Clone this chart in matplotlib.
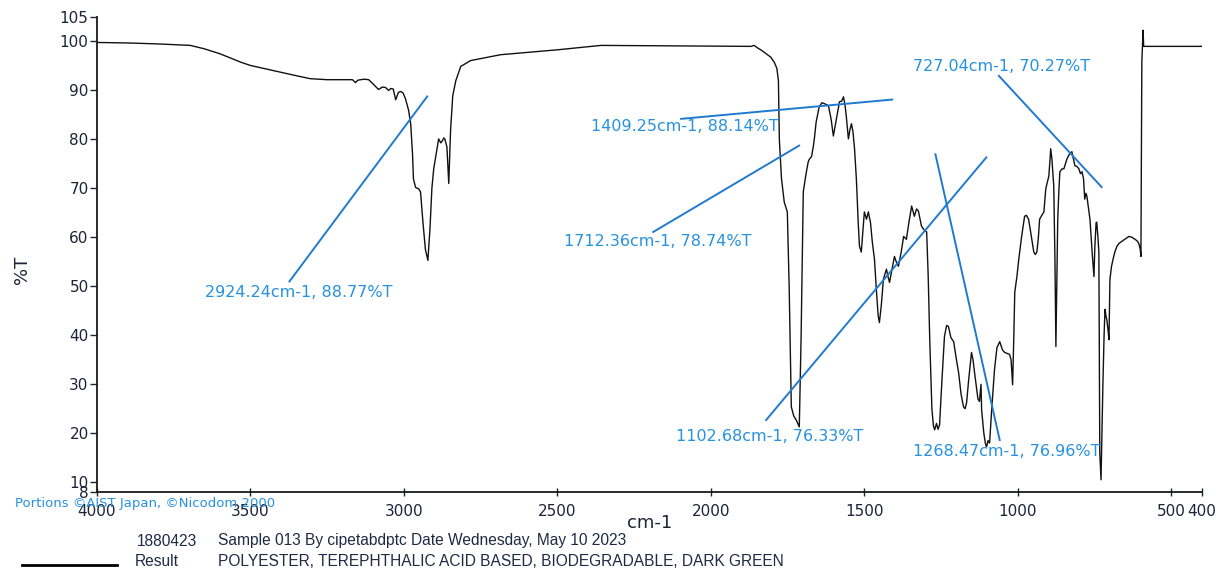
import matplotlib
matplotlib.use('Agg')
import matplotlib.pyplot as plt

# FTIR spectrum, wavenumber (cm-1) vs transmittance (%T)
wavenumber = [
    4000, 3900, 3800, 3696, 3650, 3600, 3560, 3533, 3500, 3450, 3400, 3350,
    3305, 3250,
    3168, 3158, 3150, 3130, 3115, 3100, 3083, 3070, 3060, 3050, 3043, 3035,
    3027, 3018, 3011, 3003, 2995, 2985, 2978, 2972, 2969, 2962, 2952, 2946,
    2938, 2930, 2922, 2915, 2909, 2903, 2895, 2887, 2880, 2877, 2870, 2867,
    2860, 2854, 2848, 2841, 2831, 2815, 2783, 2750, 2685, 2500, 2358, 2100,
    1869, 1859, 1846, 1835, 1820, 1805, 1793, 1785, 1780, 1777, 1770, 1761,
    1751, 1745, 1738, 1730, 1722, 1712, 1706, 1699, 1690, 1683, 1679, 1672,
    1666, 1663, 1657, 1647, 1638, 1630, 1617, 1608, 1601, 1591, 1581, 1574,
    1568, 1563, 1559, 1552, 1547, 1542, 1537, 1532, 1526, 1520, 1516, 1510,
    1505, 1500, 1493, 1487, 1480, 1474, 1467, 1461, 1455, 1451, 1445, 1438,
    1433, 1428, 1423, 1418, 1410, 1402, 1396, 1389, 1380, 1372, 1363, 1355,
    1346, 1340, 1337, 1330, 1324, 1318, 1314, 1305, 1297, 1292, 1287, 1280,
    1275, 1271, 1265, 1260, 1255, 1248, 1239, 1232, 1226, 1218, 1209, 1200,
    1193, 1185, 1177, 1172, 1167, 1160, 1151, 1146, 1141, 1130, 1125, 1120,
    1118, 1111, 1106, 1102, 1097, 1092, 1085, 1076, 1068, 1059, 1050, 1043,
    1035, 1027, 1022, 1017, 1013, 1010, 1003, 997, 988, 978, 972, 965,
    958, 948, 943, 938, 933, 929, 922, 915, 909, 905, 899, 895,
    893, 889, 883, 879, 876, 873, 870, 866, 863, 856, 850, 845,
    840, 832, 824, 819, 814, 808, 801, 796, 791, 786, 782, 778,
    775, 770, 765, 758, 752, 749, 745, 743, 739, 736, 733, 729,
    726, 723, 719, 716, 713, 710, 706, 703, 700, 695, 690, 684,
    677, 670, 661, 650, 638, 628, 618, 610, 605, 601, 599, 597,
    596, 592, 590, 500, 400,
]
transmittance = [
    99.8, 99.7, 99.5, 99.2, 98.5, 97.5, 96.5, 95.8, 95.1, 94.4, 93.7, 93.0,
    92.4, 92.2,
    92.2, 91.6, 92.1, 92.3, 92.2, 91.3, 90.2, 90.7, 90.6, 90.0, 90.4, 90.3,
    88.1, 89.6, 89.8, 89.5, 88.3, 86.0, 83.2, 77.0, 71.9, 70.2, 69.9, 69.3,
    63.0, 57.5, 55.3, 62.0, 70.0, 74.0, 77.0, 80.1, 79.3, 79.5, 80.3, 80.1,
    78.5, 71.0, 82.0, 88.9, 92.0, 94.9, 96.1, 96.5, 97.3, 98.3, 99.2, 99.1,
    99.0, 99.2, 98.6, 98.2, 97.5, 96.8, 95.7, 94.5, 92.0, 80.0, 72.0, 67.2,
    65.2, 50.0, 25.4, 23.5, 22.7, 21.3, 40.0, 69.3, 73.0, 75.4, 76.0, 76.5,
    78.7, 80.1, 83.6, 86.7, 87.5, 87.3, 86.9, 84.0, 80.7, 84.2, 87.7, 87.8,
    88.7, 87.0, 84.8, 80.1, 82.0, 83.2, 81.5, 78.1, 71.9, 63.0, 58.2, 57.0,
    61.0, 65.2, 63.7, 65.2, 63.0, 59.0, 55.5, 49.4, 44.0, 42.6, 46.0, 51.4,
    52.5, 53.5, 52.0, 50.8, 53.5, 56.1, 55.0, 54.1, 57.0, 60.2, 59.6, 63.0,
    66.4, 65.0, 64.3, 65.8, 65.4, 63.5, 62.3, 61.5, 61.1, 52.0, 39.1, 25.0,
    21.5, 20.7, 22.0, 20.8, 21.7, 30.0, 39.8, 42.0, 41.8, 39.5, 38.7, 35.0,
    32.4, 28.0, 25.4, 25.0, 26.2, 31.0, 36.5, 35.0, 32.4, 27.0, 26.5, 30.0,
    24.8, 20.1, 18.0, 17.2, 18.5, 18.0, 25.0, 33.0, 37.5, 38.7, 37.0, 36.5,
    36.3, 36.1, 35.0, 29.9, 40.0, 48.8, 52.0, 55.5, 60.0, 64.3, 64.5, 63.7,
    61.0, 57.0, 56.5, 57.0, 60.0, 63.7, 64.5, 65.2, 69.9, 71.0, 72.5, 76.0,
    78.1, 76.0, 70.5, 55.0, 37.7, 50.0, 63.7, 70.0, 73.4, 74.0, 74.0, 75.0,
    76.0, 77.0, 77.5, 76.0, 74.6, 74.5, 74.0, 73.0, 73.4, 72.0, 67.8, 69.0,
    68.4, 66.0, 63.7, 57.0, 52.0, 58.2, 63.0, 63.1, 60.0, 57.0, 16.0, 10.5,
    20.0, 29.5, 40.0, 45.3, 44.0, 43.2, 41.0, 39.1, 51.4, 54.0, 55.5, 57.0,
    58.2, 58.8, 59.2, 59.7, 60.2, 60.0, 59.6, 59.2, 58.6, 57.5, 56.1, 80.0,
    95.9, 102.3, 99.0, 99.0, 99.0,
]

# peak picks
peak_wn = [2924.24, 1409.25, 1712.36, 1102.68, 1268.47, 727.04]
peak_t = [88.77, 88.14, 78.74, 76.33, 76.96, 70.27]

# where each pick label sits and where its leader line leaves the label
label_pos = [(3344, 48.8), (2084, 82.6), (2172, 59.2),
             (1810, 19.3), (1036, 16.2), (1053, 94.9)]
leader_start = [(3373, 51.0), (2097, 84.2), (2188, 61.1),
                (1820, 22.7), (1059, 18.6), (1062, 93.0)]

x_ticks = [4000, 3500, 3000, 2500, 2000, 1500, 1000, 500, 400]
y_ticks = [8, 10, 20, 30, 40, 50, 60, 70, 80, 90, 100, 105]

ink = '#1c2438'
blue_text = '#2792df'
blue_line = '#1f7ad0'

fig = plt.figure(figsize=(12.16, 5.69), dpi=100)
ax = fig.add_axes([97 / 1216, 77 / 569, 1105 / 1216, 475 / 569])

ax.plot(wavenumber, transmittance, color='#111111', lw=1.0)

for wn, t, (lx, ly), (sx, sy) in zip(peak_wn, peak_t, label_pos, leader_start):
    ax.plot([sx, wn], [sy, t], color=blue_line, lw=1.4)
    ax.text(lx, ly, f'{wn:.2f}cm-1, {t:.2f}%T', color=blue_text,
            fontsize=11.5, ha='center', va='center', family='DejaVu Sans')

ax.set_xlim(4000, 400)
ax.set_ylim(8, 105)
ax.set_xticks(x_ticks)
ax.set_xticklabels([str(v) for v in x_ticks])
ax.set_yticks(y_ticks)
ax.set_yticklabels([str(v) for v in y_ticks])
ax.tick_params(axis='x', direction='inout', length=6, width=1, colors=ink,
               labelsize=11, pad=6)
ax.tick_params(axis='y', direction='out', length=5, width=1, colors=ink,
               labelsize=11, pad=1)
for side in ['top', 'right']:
    ax.spines[side].set_visible(False)
for side in ['left', 'bottom']:
    ax.spines[side].set_color('#1a1a1a')
    ax.spines[side].set_linewidth(1.3)
ax.patch.set_alpha(0)

fig.text(650 / 1216, 1 - 523 / 569, 'cm-1', fontsize=13, color=ink,
         ha='center', va='center')
fig.text(22 / 1216, 1 - 270 / 569, '%T', fontsize=13, color=ink,
         ha='center', va='center', rotation=90)

# library credit, printed over the x tick labels
fig.text(15 / 1216, 1 - 503 / 569, 'Portions \u00a9AIST Japan, \u00a9Nicodom 2000',
         fontsize=9.5, color=blue_text, ha='left', va='center')

# footer with sample details
footer = '#1f2a44'
ffam = 'Liberation Sans'
fig.text(137 / 1216, 1 - 541 / 569, '1880423', fontsize=11.2, color=footer,
         ha='left', va='center', family=ffam)
fig.text(218 / 1216, 1 - 541 / 569,
         'Sample 013 By cipetabdptc Date Wednesday, May 10 2023',
         fontsize=11.2, color=footer, ha='left', va='center', family=ffam)
fig.text(135 / 1216, 1 - 562 / 569, 'Result', fontsize=11.2, color=footer,
         ha='left', va='center', family=ffam)
fig.text(218 / 1216, 1 - 562 / 569,
         'POLYESTER, TEREPHTHALIC ACID BASED, BIODEGRADABLE, DARK GREEN',
         fontsize=11.2, color=footer, ha='left', va='center', family=ffam)
fig.add_artist(plt.Line2D([22 / 1216, 117 / 1216], [1 - 565 / 569, 1 - 565 / 569],
                          color='black', lw=2))

fig.savefig('out.png', dpi=100, facecolor='white')
plt.close(fig)
